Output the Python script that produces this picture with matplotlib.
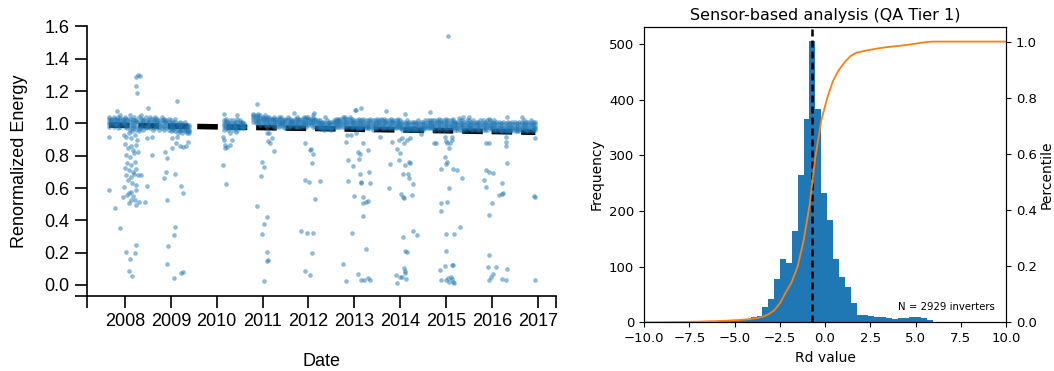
import numpy as np
import matplotlib
matplotlib.use("Agg")
import matplotlib.pyplot as plt

# ---------------- left panel: renormalized energy over time ----------------
# dense band of daily points: decimal year, and five rows across the band
band_t = [
    2007.65, 2007.70, 2007.75, 2007.80, 2007.85, 2007.90, 2007.95, 2008.00, 2008.05, 2008.10,
    2008.15, 2008.20, 2008.25, 2008.30, 2008.35, 2008.40, 2008.45, 2008.50, 2008.55, 2008.60,
    2008.65, 2008.70, 2008.75, 2008.80, 2008.85, 2008.90, 2008.95, 2009.00, 2009.05, 2009.10,
    2009.15, 2009.20, 2009.25, 2009.30, 2009.35, 2009.40,
    2010.15, 2010.20, 2010.25, 2010.30, 2010.35, 2010.40, 2010.45, 2010.50, 2010.55, 2010.60,
    2010.80, 2010.85, 2010.90, 2010.95, 2011.00, 2011.05, 2011.10, 2011.15, 2011.20, 2011.25,
    2011.30, 2011.35, 2011.40, 2011.45, 2011.50, 2011.55, 2011.60, 2011.65, 2011.70, 2011.75,
    2011.80, 2011.85, 2011.90, 2011.95, 2012.00, 2012.05, 2012.10, 2012.15, 2012.20, 2012.25,
    2012.30, 2012.35, 2012.40, 2012.45, 2012.50, 2012.55, 2012.60, 2012.65, 2012.70, 2012.75,
    2012.80, 2012.85, 2012.90, 2012.95, 2013.00, 2013.05, 2013.10, 2013.15, 2013.20, 2013.25,
    2013.30, 2013.35, 2013.40, 2013.45, 2013.50, 2013.55, 2013.60, 2013.65, 2013.70, 2013.75,
    2013.80, 2013.85, 2013.90, 2013.95, 2014.00, 2014.05, 2014.10, 2014.15, 2014.20, 2014.25,
    2014.30, 2014.35, 2014.40, 2014.45, 2014.50, 2014.55, 2014.60, 2014.65, 2014.70, 2014.75,
    2014.80, 2014.85, 2014.90, 2014.95, 2015.00, 2015.05, 2015.10, 2015.15, 2015.20, 2015.25,
    2015.30, 2015.35, 2015.40, 2015.45, 2015.50, 2015.55, 2015.60, 2015.65, 2015.70, 2015.75,
    2015.80, 2015.85, 2015.90, 2015.95, 2016.00, 2016.05, 2016.10, 2016.15, 2016.20, 2016.25,
    2016.30, 2016.35, 2016.40, 2016.45, 2016.50, 2016.55, 2016.60, 2016.65, 2016.70, 2016.75,
    2016.80, 2016.85, 2016.90, 2016.95,
]
band_hi = [
    1.04, 1.03, 1.04, 1.03, 1.04, 1.05, 1.03, 1.04, 1.03, 1.05,
    1.03, 1.04, 1.02, 1.04, 1.05, 1.03, 1.04, 1.02, 1.04, 1.03,
    1.04, 1.03, 1.02, 1.04, 1.03, 1.02, 1.03, 1.02, 1.01, 1.03,
    1.00, 1.01, 1.00, 1.01, 0.99, 0.99,
    1.02, 1.03, 1.01, 1.02, 1.02, 1.01, 1.03, 1.02, 1.01, 1.00,
    1.06, 1.05, 1.06, 1.05, 1.04, 1.05, 1.04, 1.04, 1.03, 1.04,
    1.03, 1.03, 1.04, 1.02, 1.03, 1.04, 1.03, 1.02, 1.03, 1.04,
    1.03, 1.03, 1.04, 1.04, 1.04, 1.03, 1.05, 1.03, 1.02, 1.02,
    1.01, 1.01, 1.02, 1.01, 1.01, 1.02, 1.03, 1.03, 1.03, 1.04,
    1.04, 1.03, 1.04, 1.03, 1.02, 1.02, 1.03, 1.02, 1.03, 1.02,
    1.02, 1.03, 1.02, 1.02, 1.03, 1.02, 1.02, 1.03, 1.02, 1.02,
    1.03, 1.02, 1.02, 1.03, 1.02, 1.01, 1.01, 1.02, 1.01, 1.01,
    1.01, 1.01, 1.02, 1.01, 1.01, 1.02, 1.02, 1.02, 1.02, 1.02,
    1.02, 1.03, 1.02, 1.02, 1.03, 1.02, 1.02, 1.03, 1.01, 1.01,
    1.02, 1.02, 1.01, 1.02, 1.02, 1.01, 1.02, 1.01, 1.01, 1.02,
    1.02, 1.01, 1.02, 1.02, 1.01, 1.02, 1.01, 1.01, 1.00, 1.01,
    1.00, 1.01, 1.00, 1.01, 1.01, 1.00, 1.01, 1.01, 1.02, 1.01,
    1.01, 1.02, 1.01, 1.01,
]
band_hi2 = [
    1.025, 1.015, 1.03, 1.02, 1.02, 1.035, 1.02, 1.025, 1.02, 1.03,
    1.01, 1.02, 1.015, 1.01, 1.025, 1.02, 1.015, 1.01, 1.025, 1.015,
    1.025, 1.015, 1.005, 1.02, 1.02, 1.01, 1.01, 1.005, 0.995, 1.01,
    0.99, 0.99, 0.99, 0.99, 0.98, 0.975,
    1.005, 1.015, 0.995, 1.005, 1.005, 0.995, 1.01, 1.01, 1.0, 0.99,
    1.05, 1.04, 1.045, 1.035, 1.035, 1.035, 1.03, 1.025, 1.025, 1.025,
    1.02, 1.015, 1.025, 1.01, 1.02, 1.025, 1.015, 1.015, 1.015, 1.025,
    1.02, 1.015, 1.025, 1.025, 1.03, 1.02, 1.035, 1.02, 1.01, 1.005,
    1.0, 0.995, 1.005, 1.0, 0.995, 1.01, 1.015, 1.02, 1.015, 1.025,
    1.025, 1.015, 1.025, 1.015, 1.01, 1.005, 1.015, 1.005, 1.015, 1.005,
    1.005, 1.015, 1.005, 1.005, 1.015, 1.01, 1.005, 1.015, 1.01, 1.005,
    1.015, 1.01, 1.005, 1.015, 1.005, 0.995, 0.995, 1.005, 0.995, 0.995,
    0.995, 0.995, 1.005, 0.995, 0.995, 1.005, 1.005, 1.01, 1.005, 1.005,
    1.01, 1.01, 1.01, 1.005, 1.015, 1.005, 1.005, 1.015, 1.0, 0.995,
    1.005, 1.005, 0.995, 1.005, 1.005, 0.995, 1.005, 1.0, 0.995, 1.005,
    1.005, 0.995, 1.005, 1.005, 0.995, 1.005, 0.995, 0.995, 0.985, 0.995,
    0.985, 0.995, 0.985, 0.995, 0.995, 0.985, 0.995, 0.995, 1.005, 0.995,
    0.995, 1.005, 0.995, 0.995,
]
band_mid = [
    1.01, 1.02, 1.01, 1.00, 1.01, 1.02, 1.01, 1.01, 1.00, 1.01,
    0.99, 1.00, 1.01, 0.98, 1.00, 1.01, 0.99, 1.00, 1.01, 1.00,
    1.01, 1.00, 0.99, 1.00, 1.01, 1.00, 0.99, 0.99, 0.98, 0.99,
    0.98, 0.97, 0.98, 0.97, 0.97, 0.96,
    0.99, 1.00, 0.98, 0.99, 0.99, 0.98, 0.99, 1.00, 0.99, 0.98,
    1.04, 1.03, 1.03, 1.02, 1.03, 1.02, 1.02, 1.01, 1.02, 1.01,
    1.01, 1.00, 1.01, 1.00, 1.01, 1.01, 1.00, 1.01, 1.00, 1.01,
    1.01, 1.00, 1.01, 1.01, 1.02, 1.01, 1.02, 1.01, 1.00, 0.99,
    0.99, 0.98, 0.99, 0.99, 0.98, 1.00, 1.00, 1.01, 1.00, 1.01,
    1.01, 1.00, 1.01, 1.00, 1.00, 0.99, 1.00, 0.99, 1.00, 0.99,
    0.99, 1.00, 0.99, 0.99, 1.00, 1.00, 0.99, 1.00, 1.00, 0.99,
    1.00, 1.00, 0.99, 1.00, 0.99, 0.98, 0.98, 0.99, 0.98, 0.98,
    0.98, 0.98, 0.99, 0.98, 0.98, 0.99, 0.99, 1.00, 0.99, 0.99,
    1.00, 0.99, 1.00, 0.99, 1.00, 0.99, 0.99, 1.00, 0.99, 0.98,
    0.99, 0.99, 0.98, 0.99, 0.99, 0.98, 0.99, 0.99, 0.98, 0.99,
    0.99, 0.98, 0.99, 0.99, 0.98, 0.99, 0.98, 0.98, 0.97, 0.98,
    0.97, 0.98, 0.97, 0.98, 0.98, 0.97, 0.98, 0.98, 0.99, 0.98,
    0.98, 0.99, 0.98, 0.98,
]
band_lo2 = [
    0.995, 1.005, 0.995, 0.995, 0.99, 1.0, 1.0, 0.995, 0.985, 0.985,
    0.97, 0.985, 0.985, 0.965, 0.985, 0.985, 0.98, 0.99, 0.99, 0.98,
    0.99, 0.99, 0.975, 0.985, 0.985, 0.985, 0.975, 0.97, 0.97, 0.97,
    0.96, 0.96, 0.96, 0.96, 0.955, 0.95,
    0.975, 0.985, 0.97, 0.98, 0.975, 0.975, 0.975, 0.985, 0.98, 0.975,
    1.025, 1.015, 1.015, 1.005, 1.015, 1.005, 1.0, 1.0, 1.005, 0.995,
    0.995, 0.99, 1.0, 0.99, 0.99, 0.995, 0.99, 1.0, 0.99, 0.995,
    0.995, 0.99, 1.0, 0.995, 1.005, 1.0, 1.0, 0.995, 0.985, 0.98,
    0.98, 0.97, 0.98, 0.98, 0.97, 0.985, 0.99, 0.995, 0.99, 0.995,
    0.995, 0.99, 0.995, 0.985, 0.99, 0.98, 0.985, 0.98, 0.99, 0.98,
    0.98, 0.985, 0.975, 0.98, 0.985, 0.99, 0.98, 0.985, 0.985, 0.98,
    0.985, 0.985, 0.98, 0.99, 0.98, 0.97, 0.97, 0.975, 0.97, 0.97,
    0.97, 0.97, 0.975, 0.97, 0.97, 0.98, 0.98, 0.985, 0.98, 0.975,
    0.985, 0.975, 0.985, 0.975, 0.985, 0.975, 0.98, 0.985, 0.975, 0.97,
    0.975, 0.975, 0.97, 0.975, 0.98, 0.97, 0.975, 0.975, 0.97, 0.975,
    0.975, 0.97, 0.975, 0.98, 0.97, 0.975, 0.965, 0.97, 0.96, 0.965,
    0.96, 0.965, 0.96, 0.97, 0.965, 0.96, 0.965, 0.97, 0.975, 0.965,
    0.965, 0.975, 0.965, 0.97,
]
band_lo = [
    0.98, 0.99, 0.98, 0.99, 0.97, 0.98, 0.99, 0.98, 0.97, 0.96,
    0.95, 0.97, 0.96, 0.95, 0.97, 0.96, 0.97, 0.98, 0.97, 0.96,
    0.97, 0.98, 0.96, 0.97, 0.96, 0.97, 0.96, 0.95, 0.96, 0.95,
    0.94, 0.95, 0.94, 0.95, 0.94, 0.94,
    0.96, 0.97, 0.96, 0.97, 0.96, 0.97, 0.96, 0.97, 0.97, 0.97,
    1.01, 1.00, 1.00, 0.99, 1.00, 0.99, 0.98, 0.99, 0.99, 0.98,
    0.98, 0.98, 0.99, 0.98, 0.97, 0.98, 0.98, 0.99, 0.98, 0.98,
    0.98, 0.98, 0.99, 0.98, 0.99, 0.99, 0.98, 0.98, 0.97, 0.97,
    0.97, 0.96, 0.97, 0.97, 0.96, 0.97, 0.98, 0.98, 0.98, 0.98,
    0.98, 0.98, 0.98, 0.97, 0.98, 0.97, 0.97, 0.97, 0.98, 0.97,
    0.97, 0.97, 0.96, 0.97, 0.97, 0.98, 0.97, 0.97, 0.97, 0.97,
    0.97, 0.97, 0.97, 0.98, 0.97, 0.96, 0.96, 0.96, 0.96, 0.96,
    0.96, 0.96, 0.96, 0.96, 0.96, 0.97, 0.97, 0.97, 0.97, 0.96,
    0.97, 0.96, 0.97, 0.96, 0.97, 0.96, 0.97, 0.97, 0.96, 0.96,
    0.96, 0.96, 0.96, 0.96, 0.97, 0.96, 0.96, 0.96, 0.96, 0.96,
    0.96, 0.96, 0.96, 0.97, 0.96, 0.96, 0.95, 0.96, 0.95, 0.95,
    0.95, 0.95, 0.95, 0.96, 0.95, 0.95, 0.95, 0.96, 0.96, 0.95,
    0.95, 0.96, 0.95, 0.96,
]

# scattered low / high days, (decimal year, renormalized energy)
out_2008 = [
    (2007.64, 0.914), (2007.64, 0.588), (2007.79, 0.475), (2007.88, 0.351), (2007.83, 1.079),
    (2008.24, 1.289), (2008.28, 1.300), (2008.32, 1.293), (2008.24, 1.232), (2008.26, 1.190),
    (2008.50, 1.093), (2009.14, 1.139),
    (2007.97, 0.928), (2008.02, 0.914), (2008.08, 0.939), (2008.14, 0.908), (2008.21, 0.928),
    (2008.26, 0.897), (2007.99, 0.873), (2008.06, 0.846), (2008.12, 0.860), (2008.18, 0.836),
    (2008.23, 0.866), (2008.03, 0.805), (2008.10, 0.794), (2008.19, 0.815), (2008.28, 0.825),
    (2008.05, 0.757), (2008.14, 0.743), (2008.21, 0.763), (2008.01, 0.722), (2008.08, 0.712),
    (2008.17, 0.701), (2008.24, 0.716), (2008.02, 0.681), (2008.12, 0.671), (2008.19, 0.687),
    (2008.29, 0.681), (2008.34, 0.681), (2008.07, 0.650), (2008.15, 0.629), (2008.24, 0.619),
    (2007.97, 0.605), (2008.23, 0.588), (2008.08, 0.567), (2008.14, 0.578), (2008.17, 0.551),
    (2008.05, 0.557), (2007.96, 0.547), (2008.21, 0.526), (2008.30, 0.516), (2008.48, 0.613),
    (2008.08, 0.506), (2008.23, 0.493), (2008.12, 0.526), (2008.43, 0.516),
    (2008.24, 0.248), (2008.03, 0.206), (2008.21, 0.200), (2008.11, 0.161), (2008.08, 0.089),
    (2008.15, 0.056),
    (2008.59, 0.805), (2008.87, 0.825), (2008.92, 0.784), (2008.90, 0.701), (2008.85, 0.660),
    (2009.10, 0.687), (2008.92, 0.526), (2009.23, 0.615), (2009.26, 0.571), (2009.10, 0.361),
    (2009.06, 0.310), (2008.94, 0.244), (2008.92, 0.128), (2009.06, 0.046), (2009.23, 0.077),
    (2009.26, 0.083), (2009.03, 0.846), (2009.11, 0.881), (2009.19, 0.860), (2009.26, 0.856),
    (2009.32, 0.860), (2008.48, 0.908), (2008.59, 0.918), (2009.03, 0.908), (2009.14, 0.914),
    (2009.37, 0.887),
]
out_2010 = [
    (2010.14, 0.918), (2010.16, 0.897), (2010.17, 0.866), (2010.19, 0.846), (2010.23, 0.852),
    (2010.30, 0.866), (2010.34, 0.897), (2010.14, 0.743), (2010.21, 0.625), (2010.30, 0.939),
    (2010.41, 0.949), (2010.45, 1.052), (2010.16, 1.058),
]
out_2011_2012 = [
    (2010.88, 1.118), (2011.09, 0.939), (2011.12, 0.893), (2010.99, 0.763), (2011.04, 0.732),
    (2010.96, 0.677), (2010.87, 0.491), (2011.09, 0.423), (2011.03, 0.376), (2010.99, 0.318),
    (2011.09, 0.206), (2011.10, 0.151), (2011.12, 0.155), (2011.03, 0.027),
    (2011.14, 0.939), (2011.20, 0.908), (2011.17, 0.877), (2011.25, 0.829), (2011.92, 0.877),
    (2012.03, 0.836), (2012.05, 0.840), (2012.11, 0.811), (2012.08, 0.757), (2011.92, 0.650),
    (2012.01, 0.640), (2012.25, 0.646), (2012.14, 0.530), (2011.83, 0.334), (2011.97, 0.320),
    (2012.10, 0.320), (2012.08, 0.196), (2011.92, 0.089), (2012.03, 0.062), (2012.75, 0.128),
    (2012.81, 0.025), (2012.81, 0.883), (2012.87, 0.774), (2012.97, 0.737), (2012.87, 0.644),
    (2012.99, 0.553), (2012.94, 0.324), (2011.68, 1.067), (2012.12, 1.067), (2012.36, 1.042),
    (2011.36, 1.042), (2013.02, 1.083), (2012.85, 0.928), (2012.92, 0.928),
]
out_2013_2014 = [
    (2013.03, 1.083), (2013.15, 1.097), (2013.70, 1.079), (2014.10, 1.056), (2014.65, 1.069),
    (2013.58, 1.025), (2013.03, 0.939), (2013.08, 0.825), (2013.12, 0.811), (2013.10, 0.778),
    (2013.18, 0.877), (2013.30, 0.836), (2013.12, 0.687), (2013.15, 0.640), (2013.14, 0.629),
    (2013.32, 0.701), (2013.34, 0.633), (2013.19, 0.543), (2013.20, 0.506), (2013.25, 0.516),
    (2013.30, 0.522), (2013.18, 0.427), (2013.26, 0.225), (2013.08, 0.066), (2013.14, 0.031),
    (2013.21, 0.031), (2013.30, 0.046), (2013.34, 0.033), (2013.56, 0.914), (2013.83, 0.887),
    (2013.98, 0.897), (2014.05, 0.908), (2014.09, 0.877), (2013.94, 0.840), (2014.00, 0.815),
    (2014.14, 0.897), (2014.22, 0.908), (2013.79, 0.749), (2013.98, 0.774), (2014.10, 0.743),
    (2014.19, 0.763), (2014.22, 0.753), (2014.17, 0.687), (2014.07, 0.687), (2014.19, 0.660),
    (2014.29, 0.625), (2013.76, 0.598), (2014.01, 0.563), (2014.07, 0.547), (2014.09, 0.541),
    (2014.25, 0.557), (2014.06, 0.299), (2014.28, 0.336), (2014.36, 0.310), (2014.10, 0.210),
    (2014.16, 0.206), (2014.09, 0.103), (2014.10, 0.089), (2014.11, 0.072), (2014.05, 0.048),
    (2013.90, 0.062), (2013.94, 0.015), (2014.00, 0.052), (2014.12, 0.035), (2014.45, 0.935),
    (2014.74, 0.881),
]
out_2015_2016 = [
    (2015.05, 1.541), (2015.37, 1.042), (2015.51, 1.038), (2015.94, 1.027), (2016.33, 1.038),
    (2016.65, 1.038), (2015.29, 1.032),
    (2014.78, 0.877), (2014.89, 0.718), (2014.98, 0.790), (2015.01, 0.749), (2015.03, 0.763),
    (2014.98, 0.918), (2015.01, 0.893), (2015.03, 0.877), (2015.08, 0.877), (2015.07, 0.850),
    (2015.13, 0.897), (2015.14, 0.918), (2015.16, 0.718), (2015.25, 0.712), (2015.36, 0.660),
    (2015.07, 0.598), (2014.89, 0.506), (2014.89, 0.458), (2015.03, 0.516), (2015.00, 0.316),
    (2015.18, 0.314), (2015.30, 0.361), (2015.00, 0.210), (2014.86, 0.094), (2014.98, 0.118),
    (2015.13, 0.124), (2015.16, 0.124), (2014.89, 0.031), (2015.00, 0.031), (2015.05, 0.042),
    (2015.10, 0.048), (2015.13, 0.035), (2015.16, 0.021), (2015.18, 0.011), (2015.07, 0.021),
    (2015.87, 0.881), (2015.94, 0.881), (2015.87, 0.712), (2015.94, 0.697), (2016.03, 0.691),
    (2015.83, 0.650), (2015.87, 0.604), (2016.00, 0.506), (2016.16, 0.557), (2016.22, 0.563),
    (2016.25, 0.567), (2016.23, 0.629), (2015.93, 0.434), (2015.93, 0.186), (2015.92, 0.110),
    (2015.93, 0.031), (2015.98, 0.052), (2016.03, 0.069), (2016.10, 0.110), (2016.22, 0.035),
    (2016.30, 0.031), (2016.34, 0.098), (2016.32, 0.887), (2016.30, 0.860), (2016.34, 0.757),
    (2016.32, 0.918), (2016.93, 0.550), (2016.94, 0.545), (2016.94, 0.030), (2016.94, 0.910),
]

# fitted degradation trend
trend_t = [2007.65, 2016.95]
trend_v = [0.99, 0.945]
years = list(range(2008, 2018))

# ---------------- right panel: Rd distribution ----------------
rd_first_edge = -9.96
rd_bin_width = 0.325
rd_counts = [0, 1, 0, 1, 1, 0, 1, 2, 1, 2,
             2, 1, 3, 2, 4, 3, 5, 6, 9, 12,
             27, 41, 77, 114, 107, 164, 264, 366, 505, 383,
             232, 184, 113, 82, 64, 35, 13, 13,
             11, 10, 9, 7, 6, 7, 8, 9, 10, 8, 4]
rd_median = -0.71
n_inverters = 2929

rows = [band_hi, band_hi2, band_mid, band_lo2, band_lo]
assert all(len(r) == len(band_t) for r in rows)

fig = plt.figure(figsize=(10.54, 3.71), dpi=100)

# left panel
ax1 = fig.add_axes([0.0825, 0.2022, 0.445, 0.7266])
outliers = out_2008 + out_2010 + out_2011_2012 + out_2013_2014 + out_2015_2016
pts_t = band_t * len(rows) + [p[0] for p in outliers]
pts_v = sum(rows, []) + [p[1] for p in outliers]
ax1.plot(trend_t, trend_v, linestyle='--', color='black', lw=4, zorder=1)
ax1.scatter(pts_t, pts_v, s=11, color='#1f77b4', alpha=0.5, linewidths=0, zorder=2)

x0, x1 = 2007.17, 2017.40
y0, y1 = -0.068, 1.6
ax1.set_xlim(x0, x1)
ax1.set_ylim(y0, y1)
ax1.set_xticks([x0] + years + [x1])
ax1.set_xticklabels([''] + [str(y) for y in years] + [''])
yt = [0.0, 0.2, 0.4, 0.6, 0.8, 1.0, 1.2, 1.4, 1.6]
ax1.set_yticks([y0] + yt)
ax1.set_yticklabels([''] + ['%.1f' % v for v in yt])
for s in ['top', 'right']:
    ax1.spines[s].set_visible(False)
for s in ['left', 'bottom']:
    ax1.spines[s].set_linewidth(1.2)
ax1.tick_params(direction='out', length=8.5, width=1.2, pad=4, labelsize=13)
for lab in ax1.get_xticklabels() + ax1.get_yticklabels():
    lab.set_fontfamily('Liberation Sans')
ax1.set_ylabel('Renormalized Energy', fontsize=13, family='Liberation Sans', labelpad=12)
ax1.set_xlabel('Date', fontsize=13, family='Liberation Sans', labelpad=16)

# right panel
ax2 = fig.add_axes([0.611, 0.1312, 0.3435, 0.7968])
edges = rd_first_edge + rd_bin_width * np.arange(len(rd_counts) + 1)
ax2.hist(edges[:-1], bins=edges, weights=rd_counts, color='#1f77b4')
ax2.axvline(rd_median, color='black', linestyle='--', lw=1.8, dashes=(2.8, 1.6))
ax2.set_xlim(-10, 10)
ax2.set_ylim(0, 531)
ax2.set_xlabel('Rd value', fontsize=10)
ax2.set_ylabel('Frequency', fontsize=10)
ax2.set_title('Sensor-based analysis (QA Tier 1)', fontsize=11.5, pad=5)
ax2.tick_params(labelsize=9.5)
ax2.text(0.97, 0.053, 'N = %d inverters' % n_inverters, transform=ax2.transAxes,
         ha='right', va='center', fontsize=7.3)

cum = np.concatenate([[0], np.cumsum(rd_counts)]) / np.sum(rd_counts)
ax3 = ax2.twinx()
ax3.plot(np.r_[-10, edges, 10], np.r_[0, cum, 1], color='#ff7f0e', lw=1.3)
ax3.set_ylim(0, 1.053)
ax3.set_ylabel('Percentile', fontsize=10, labelpad=2)
ax3.tick_params(labelsize=9.5)

fig.savefig('out.png', dpi=100)
